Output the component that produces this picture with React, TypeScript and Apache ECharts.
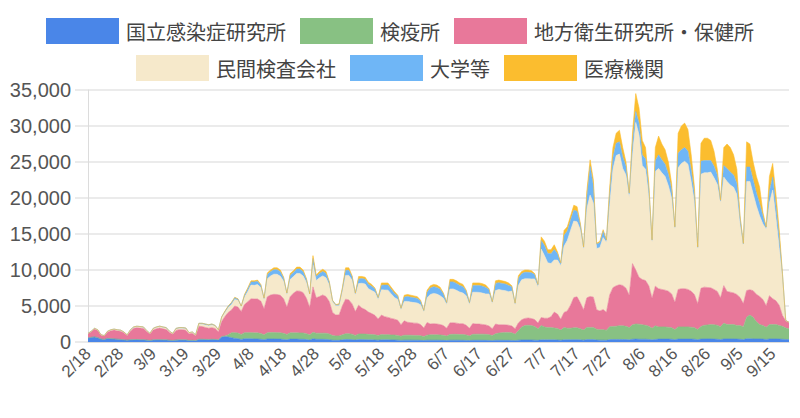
import React, { useEffect, useRef } from "react";
import * as echarts from "echarts";

// Daily PCR tests by institution, 2020-02-18 .. 2020-09-20 (rows = weeks starting Tuesday)
const START_DATE = "2020-02-18";

const NIID = [
  550, 650, 700, 600, 400, 350, 500,
  450, 420, 380, 350, 300, 250, 300,
  320, 330, 300, 300, 250, 200, 280,
  300, 300, 280, 280, 230, 200, 260,
  280, 270, 270, 200, 220, 180, 350,
  350, 330, 320, 350, 330, 280, 700,
  750, 700, 600, 500, 450, 350, 450,
  450, 450, 420, 420, 380, 320, 420,
  420, 420, 400, 400, 350, 300, 400,
  400, 400, 380, 380, 330, 280, 450,
  380, 370, 370, 360, 320, 250, 230,
  230, 300, 350, 350, 320, 270, 330,
  330, 320, 300, 300, 280, 250, 300,
  300, 300, 280, 280, 260, 220, 260,
  260, 260, 250, 250, 230, 200, 250,
  250, 250, 250, 240, 230, 200, 250,
  250, 250, 240, 240, 220, 200, 240,
  240, 240, 240, 230, 220, 190, 240,
  240, 240, 230, 230, 220, 190, 250,
  280, 280, 280, 280, 260, 230, 300,
  300, 300, 300, 300, 280, 250, 300,
  320, 320, 320, 320, 300, 260, 330,
  330, 330, 280, 260, 260, 240, 330,
  350, 350, 350, 350, 330, 300, 380,
  400, 380, 380, 380, 350, 300, 350,
  400, 400, 400, 400, 380, 320, 400,
  400, 400, 400, 400, 380, 320, 400,
  420, 420, 420, 400, 380, 330, 420,
  420, 420, 420, 400, 380, 330, 450,
  450, 430, 420, 420, 400, 350, 420,
  420, 420, 400, 380, 350, 330,
];

const QUARANTINE = [
  0, 0, 0, 0, 0, 0, 0,
  10, 10, 10, 10, 10, 10, 10,
  20, 20, 20, 20, 20, 20, 20,
  20, 20, 20, 20, 20, 20, 20,
  30, 30, 30, 30, 30, 30, 40,
  40, 40, 40, 40, 40, 40, 60,
  100, 300, 700, 800, 800, 700, 850,
  850, 850, 850, 850, 800, 700, 850,
  900, 900, 900, 880, 850, 750, 880,
  880, 880, 880, 870, 830, 720, 900,
  850, 850, 860, 850, 800, 650, 620,
  620, 700, 800, 800, 770, 650, 780,
  780, 780, 760, 750, 720, 650, 740,
  720, 720, 700, 690, 660, 580, 680,
  680, 680, 670, 660, 640, 560, 700,
  750, 750, 750, 740, 700, 620, 800,
  820, 820, 800, 800, 760, 650, 820,
  850, 850, 850, 840, 800, 700, 900,
  1000, 1050, 1100, 1100, 1050, 900, 1300,
  1800, 2000, 2050, 2000, 1900, 1600, 2000,
  1800, 1700, 1700, 1650, 1600, 1400, 1700,
  1600, 1600, 1650, 1650, 1550, 1400, 1700,
  1700, 1700, 1500, 1450, 1450, 1400, 1800,
  1800, 1850, 1900, 1900, 1850, 1700, 2000,
  2100, 2100, 2000, 1950, 1850, 1600, 1900,
  1700, 1700, 1700, 1650, 1600, 1400, 1700,
  1700, 1700, 1700, 1650, 1600, 1400, 1750,
  1900, 1950, 2000, 2000, 1950, 1800, 2200,
  2000, 2000, 2000, 1900, 1900, 1800, 3000,
  3300, 3000, 2400, 2000, 1900, 1700, 2000,
  2000, 2000, 1900, 1800, 1600, 1500,
];

const LOCAL = [
  600, 780, 1100, 1000, 550, 500, 900,
  1100, 1220, 1160, 1140, 980, 650, 1200,
  1560, 1640, 1610, 1560, 1180, 880, 1380,
  1520, 1610, 1530, 1430, 1070, 860, 1330,
  1400, 1400, 1330, 900, 970, 650, 1800,
  1750, 1650, 1550, 1600, 1500, 1100, 2100,
  2700, 3100, 3150, 3700, 3600, 3200, 3900,
  4300, 4700, 4700, 4700, 4500, 3600, 5000,
  5200, 5300, 5300, 5200, 4800, 3800, 5000,
  5500, 5800, 5800, 5600, 4900, 3800, 6300,
  4900, 5100, 5300, 5100, 4500, 3200, 2900,
  2900, 4000, 4800, 4700, 4200, 3300, 4000,
  3600, 3400, 3100, 2900, 2700, 2300, 2700,
  2500, 2400, 2300, 2200, 2100, 1600, 2000,
  1800, 1750, 1700, 1700, 1550, 1200, 1750,
  1500, 1550, 1500, 1450, 1350, 1100, 1600,
  1600, 1550, 1500, 1500, 1350, 1050, 1500,
  1400, 1400, 1350, 1300, 1200, 950, 1350,
  1150, 1100, 1050, 1000, 950, 750, 1100,
  1000, 1000, 1000, 980, 950, 800, 1100,
  1200, 1300, 1500, 2200, 2000, 1500, 2100,
  2400, 3200, 4200, 4300, 3600, 2800, 4100,
  4300, 4200, 2700, 2600, 2800, 2500, 4400,
  5400, 5600, 5700, 5600, 5300, 4500, 8500,
  7500, 6500, 6300, 6200, 5600, 4200, 5500,
  5300, 5200, 5100, 5000, 4700, 3800, 5200,
  5300, 5300, 5200, 5000, 4600, 3600, 5300,
  5300, 5200, 5100, 4900, 4700, 4000, 5200,
  4600, 4500, 4400, 4300, 3900, 3200, 3700,
  3500, 3700, 3800, 3900, 3600, 3000, 4000,
  3600, 3300, 2800, 1500, 1000, 900,
];

const PRIVATE = [
  30, 40, 60, 60, 30, 30, 60,
  90, 100, 100, 100, 80, 60, 130,
  130, 140, 150, 150, 110, 80, 150,
  180, 190, 190, 190, 140, 100, 200,
  200, 210, 220, 140, 140, 120, 300,
  330, 350, 360, 380, 360, 250, 500,
  550, 650, 750, 900, 950, 650, 1000,
  1400, 1900, 1900, 2000, 1900, 1300, 2500,
  2650, 2800, 2800, 2650, 2450, 1750, 2400,
  2300, 2450, 2450, 2300, 2200, 1700, 3100,
  2400, 2600, 2650, 2600, 2300, 1500, 1300,
  1300, 2000, 3300, 3400, 3300, 2300, 3000,
  3450, 3550, 3250, 3200, 3200, 2700, 3500,
  3700, 3780, 3400, 3000, 2900, 2100, 2700,
  2900, 2850, 2850, 2800, 2750, 2250, 3450,
  4100, 4200, 4150, 4000, 3800, 3300, 4700,
  4700, 4560, 4400, 4260, 4100, 3300, 4350,
  4420, 4400, 4350, 4300, 4450, 3500, 4650,
  4900, 4800, 4750, 4660, 4850, 3320, 5200,
  5550, 5500, 5450, 5500, 5650, 5000, 9500,
  8700, 7700, 7400, 7250, 7500, 7450, 9200,
  9780, 10380, 10630, 10430, 10150, 8390, 12370,
  14070, 13070, 8500, 8800, 9990, 9710, 12470,
  16450, 18100, 18150, 16250, 15720, 13600, 15120,
  20500, 19820, 15820, 15470, 12500, 7800, 15950,
  16700, 16200, 15800, 14650, 13320, 10180, 16900,
  17400, 17700, 17400, 15250, 12820, 7630, 15850,
  15880, 15930, 16080, 15500, 14870, 13170, 15080,
  15280, 14880, 14680, 13900, 10120, 8070, 15150,
  15050, 13470, 12280, 11180, 10500, 10650, 12880,
  15080, 11480, 8000, 5500, 0, 0,
];

const UNIVERSITY = [
  20, 30, 40, 40, 20, 20, 40,
  50, 50, 50, 50, 30, 30, 60,
  70, 70, 70, 70, 40, 20, 70,
  80, 80, 80, 80, 40, 20, 90,
  90, 90, 100, 30, 40, 20, 110,
  130, 130, 130, 130, 70, 30, 140,
  150, 200, 250, 250, 180, 90, 300,
  400, 450, 480, 480, 340, 150, 600,
  600, 620, 640, 620, 450, 180, 580,
  580, 600, 620, 600, 450, 180, 850,
  550, 600, 620, 600, 400, 180, 130,
  130, 330, 700, 700, 500, 250, 650,
  650, 650, 600, 580, 480, 270, 650,
  680, 700, 640, 580, 480, 180, 600,
  680, 680, 660, 640, 520, 170, 750,
  900, 920, 920, 880, 620, 260, 1000,
  980, 960, 920, 880, 650, 280, 950,
  950, 960, 960, 900, 620, 240, 1000,
  950, 950, 920, 870, 620, 220, 1000,
  850, 900, 900, 850, 620, 330, 1200,
  1400, 1300, 1350, 1450, 900, 350, 1500,
  1300, 1400, 1500, 1450, 700, 300, 1700,
  4000, 2400, 600, 700, 900, 300, 1700,
  1600, 1700, 1700, 1600, 1200, 500, 1700,
  1500, 1600, 1500, 1400, 1000, 250, 1500,
  1900, 1800, 1700, 1600, 1200, 250, 2000,
  1900, 1900, 1800, 1600, 1200, 200, 1800,
  1700, 1700, 1600, 1600, 1300, 350, 1600,
  1800, 1800, 1700, 1500, 900, 250, 2000,
  2000, 1900, 1800, 1700, 1100, 250, 1600,
  1800, 1700, 1500, 200, 50, 0,
];

const MEDICAL = [
  0, 0, 0, 0, 0, 0, 0,
  0, 0, 0, 0, 0, 0, 0,
  0, 0, 0, 0, 0, 0, 0,
  0, 0, 0, 0, 0, 0, 0,
  0, 0, 0, 0, 0, 0, 0,
  0, 0, 0, 0, 0, 0, 0,
  50, 50, 50, 50, 20, 10, 100,
  100, 150, 150, 150, 80, 30, 230,
  230, 260, 260, 250, 100, 20, 240,
  240, 270, 270, 250, 90, 20, 400,
  220, 280, 300, 290, 80, 20, 20,
  120, 170, 350, 350, 110, 30, 340,
  290, 300, 290, 270, 120, 30, 310,
  300, 300, 280, 250, 100, 20, 260,
  280, 280, 270, 250, 110, 20, 300,
  300, 330, 330, 290, 100, 20, 350,
  350, 360, 340, 320, 120, 20, 340,
  340, 350, 350, 330, 110, 20, 360,
  360, 360, 350, 340, 110, 20, 350,
  320, 320, 320, 290, 120, 40, 500,
  600, 500, 550, 650, 220, 50, 700,
  600, 600, 700, 650, 200, 50, 800,
  900, 800, 120, 190, 200, 50, 800,
  1400, 1400, 1600, 1300, 600, 100, 1300,
  2500, 2100, 2000, 1600, 700, 50, 1800,
  2600, 2200, 2000, 1700, 800, 50, 2800,
  3300, 3400, 3000, 2100, 900, 50, 2500,
  3100, 3100, 2800, 2100, 800, 50, 2500,
  3400, 3400, 2800, 2000, 300, 50, 3500,
  3200, 2500, 2300, 2300, 500, 50, 2100,
  1900, 1600, 1000, 120, 0, 0,
];

const SERIES_NAMES = [
  "国立感染症研究所",
  "検疫所",
  "地方衛生研究所・保健所",
  "民間検査会社",
  "大学等",
  "医療機関",
];
const SERIES_COLORS = ["#4a86e8", "#88c183", "#e8789a", "#f6e9cb", "#6fb6f6", "#fbbd2f"];

function buildDates(n: number): string[] {
  const base = new Date(START_DATE + "T00:00:00Z").getTime();
  const out: string[] = [];
  for (let i = 0; i < n; i++) {
    const d = new Date(base + i * 86400000);
    out.push(`${d.getUTCMonth() + 1}/${d.getUTCDate()}`);
  }
  return out;
}

export default function App() {
  const ref = useRef<HTMLDivElement>(null);

  useEffect(() => {
    document.body.style.margin = "0";
    if (!ref.current) return;
    const chart = echarts.init(ref.current, undefined, { renderer: "svg" });
    const dates = buildDates(NIID.length);
    const dataSets = [NIID, QUARANTINE, LOCAL, PRIVATE, UNIVERSITY, MEDICAL];
    const legendText = {
      fontSize: 20,
      color: "#444",
      fontFamily: "Noto Sans CJK JP",
      padding: [0, 0, 0, 2],
    };
    chart.setOption({
      animation: false,
      color: SERIES_COLORS,
      legend: [
        {
          data: SERIES_NAMES.slice(0, 3),
          top: 13,
          left: "center",
          icon: "rect",
          itemWidth: 73,
          itemHeight: 26,
          itemGap: 14,
          textStyle: legendText,
        },
        {
          data: SERIES_NAMES.slice(3),
          top: 50,
          left: "center",
          icon: "rect",
          itemWidth: 73,
          itemHeight: 26,
          itemGap: 14,
          textStyle: legendText,
        },
      ],
      grid: { left: 88, right: 11, top: 90, bottom: 76, containLabel: false },
      xAxis: {
        type: "category",
        data: dates,
        boundaryGap: false,
        axisLine: { show: true, lineStyle: { color: "#dcdcdc" } },
        axisTick: { show: false },
        axisLabel: {
          interval: 9,
          rotate: 45,
          fontSize: 17,
          color: "#555",
          margin: 9,
          fontFamily: "Liberation Sans, Arial, sans-serif",
        },
        splitLine: { show: false },
      },
      yAxis: {
        type: "value",
        min: 0,
        max: 35000,
        interval: 5000,
        axisLine: { show: true, lineStyle: { color: "#dcdcdc" } },
        axisTick: { show: true, length: 13, lineStyle: { color: "#e4e4e4", width: 1.5 } },
        axisLabel: {
          fontSize: 20,
          color: "#555",
          margin: 17,
          fontFamily: "Liberation Sans, Arial, sans-serif",
          formatter: (v: number) => v.toLocaleString("en-US"),
        },
        splitLine: { lineStyle: { color: "#e4e4e4", width: 1.5 } },
      },
      series: SERIES_NAMES.map((name, i) => ({
        name,
        type: "line",
        stack: "total",
        data: dataSets[i],
        showSymbol: false,
        symbol: "none",
        lineStyle: { width: 0.6, color: SERIES_COLORS[i] },
        areaStyle: { color: SERIES_COLORS[i], opacity: 1 },
        emphasis: { disabled: true },
      })),
    });
    return () => chart.dispose();
  }, []);

  return <div ref={ref} style={{ width: 800, height: 418 }} />;
}
